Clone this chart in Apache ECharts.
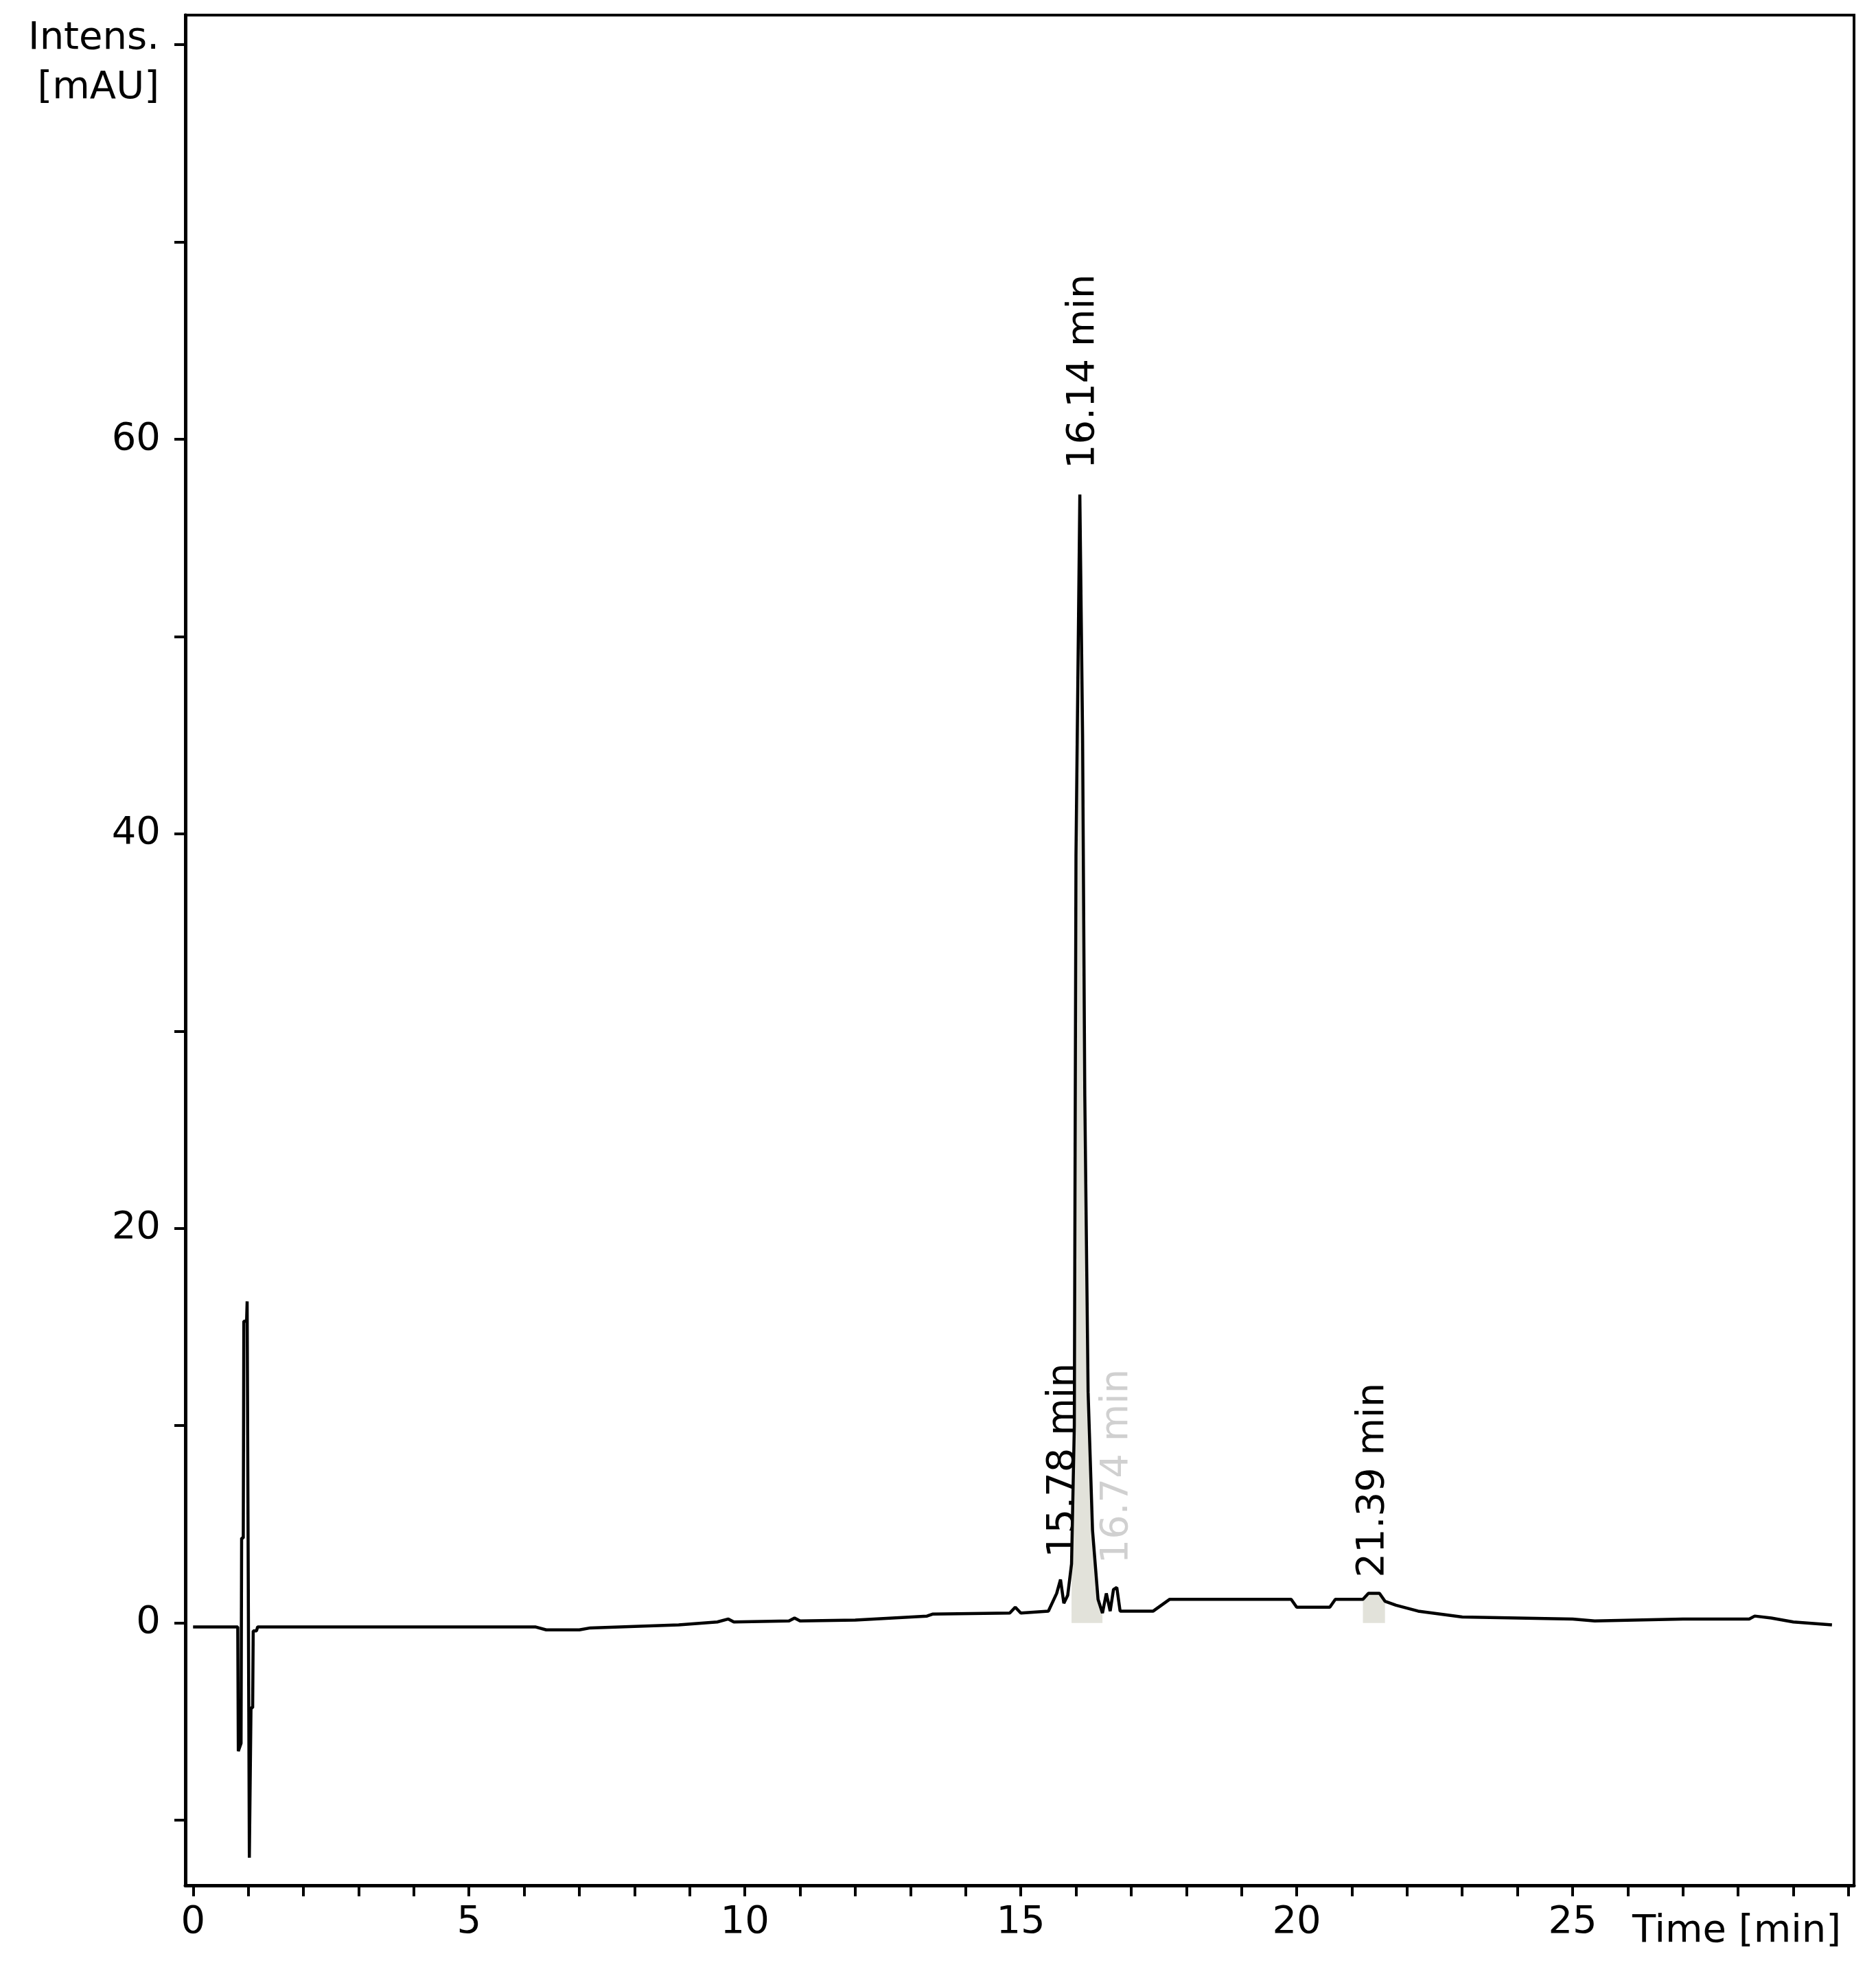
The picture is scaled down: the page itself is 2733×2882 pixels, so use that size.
<!DOCTYPE html>
<html>
<head>
<meta charset="utf-8">
<script src="https://cdn.jsdelivr.net/npm/echarts@6/dist/echarts.min.js"></script>
<style>html,body{margin:0;padding:0;background:#fff}#chart{width:2733px;height:2882px}</style>
</head>
<body>
<div id="chart"></div>
<script>
// chromatogram trace, time in min, intensity in mAU
var times = [0,0.81,0.82,0.87,0.88,0.91,0.92,0.97,0.98,1.0,1.01,1.02,1.04,1.05,1.08,1.09,1.15,1.17,
	3,6.2,6.4,7.0,7.2,8.8,9.5,9.7,9.8,10.8,10.9,11.0,12,13.3,13.4,14.8,14.9,15.0,15.5,15.65,15.72,15.78,15.85,
	15.92,15.97,16.0,16.07,16.12,16.16,16.22,16.3,16.4,16.48,16.55,16.62,16.68,16.74,16.8,17.4,17.7,19.9,20.0,
	20.6,20.7,21.2,21.3,21.5,21.6,21.8,22.2,23,25,25.4,27,28.2,28.3,28.6,29.0,29.7];
var intens = [-0.2,-0.2,-6.5,-6.1,4.3,4.3,15.3,15.3,16.3,16.3,-4.5,-11.9,-11.9,-4.3,-4.3,-0.4,-0.4,-0.2,
	-0.2,-0.2,-0.35,-0.35,-0.25,-0.1,0.05,0.2,0.05,0.1,0.25,0.1,0.15,0.35,0.45,0.5,0.8,0.5,0.6,1.5,2.2,1.0,1.4,
	3.0,10,38.9,57.2,45,26.7,11.7,4.7,1.2,0.5,1.5,0.6,1.7,1.8,0.6,0.6,1.2,1.2,0.8,
	0.8,1.2,1.2,1.5,1.5,1.1,0.9,0.6,0.3,0.2,0.1,0.2,0.2,0.35,0.25,0.05,-0.1];
// integrated peak ranges (min)
var shaded = [[15.92,16.48],[21.2,21.6]];
// peak annotations: retention time, y of text base, colour
var peakNames = ['16.14 min','15.78 min','16.74 min','21.39 min'];
var peakX = [16.14,15.78,16.74,21.39];
var peakY = [58.5,3.3,3.0,2.3];
var peakColor = ['#000','#000','#d0d0d0','#000'];
var xTicks = [0,1,2,3,4,5,6,7,8,9,10,11,12,13,14,15,16,17,18,19,20,21,22,23,24,25,26,27,28,29,30];
var xLabels = [0,5,10,15,20,25];
var yTicks = [-10,0,10,20,30,40,50,60,70,80];
var yLabels = [0,20,40,60];

var font = 'DejaVu Sans';
var trace = times.map(function(t,i){ return [t,intens[i]]; });
var fillSeries = shaded.map(function(r){
	return {
		type:'line', data: trace.filter(function(p){ return p[0]>=r[0] && p[0]<=r[1]; }),
		symbol:'none', lineStyle:{width:0}, areaStyle:{color:'#e2e2da',opacity:1}, z:1, silent:true
	};
});

var myChart = echarts.init(document.getElementById('chart'));
myChart.setOption({
	animation:false,
	backgroundColor:'#fff',
	grid:{left:270,right:32,top:22,bottom:135,show:true,borderColor:'#000',borderWidth:4},
	xAxis:{
		type:'value',min:-0.14,max:30.1,
		axisLine:{onZero:false,lineStyle:{color:'#000',width:5}},
		axisTick:{customValues:xTicks,length:16,lineStyle:{color:'#000',width:4}},
		axisLabel:{customValues:xLabels,color:'#000',fontFamily:font,fontSize:56,margin:26},
		splitLine:{show:false}
	},
	yAxis:{
		type:'value',min:-13.3,max:81.5,
		axisLine:{show:true,onZero:false,lineStyle:{color:'#000',width:5}},
		axisTick:{customValues:yTicks,length:16,lineStyle:{color:'#000',width:4}},
		axisLabel:{customValues:yLabels,color:'#000',fontFamily:font,fontSize:56,margin:36},
		splitLine:{show:false}
	},
	series: fillSeries.concat([{
		type:'line',data:trace,symbol:'none',z:3,
		lineStyle:{color:'#000',width:4.5}
	}])
});

var graphics = [
	{type:'text',right:2733-232,top:28,style:{text:'Intens.',font:'56px '+font,fill:'#000',align:'right'}},
	{type:'text',right:2733-232,top:100,style:{text:'[mAU]',font:'56px '+font,fill:'#000',align:'right'}},
	{type:'text',left:2378,top:2786,style:{text:'Time [min]',font:'56px '+font,fill:'#000'}}
];
peakNames.forEach(function(name,i){
	var p = myChart.convertToPixel({gridIndex:0},[peakX[i],peakY[i]]);
	graphics.push({type:'text',x:p[0],y:p[1],rotation:Math.PI/2,
		style:{text:name,font:'56px '+font,fill:peakColor[i],align:'left',verticalAlign:'middle'},
		originX:0,originY:0});
});
myChart.setOption({graphic:graphics});
</script>
</body>
</html>
